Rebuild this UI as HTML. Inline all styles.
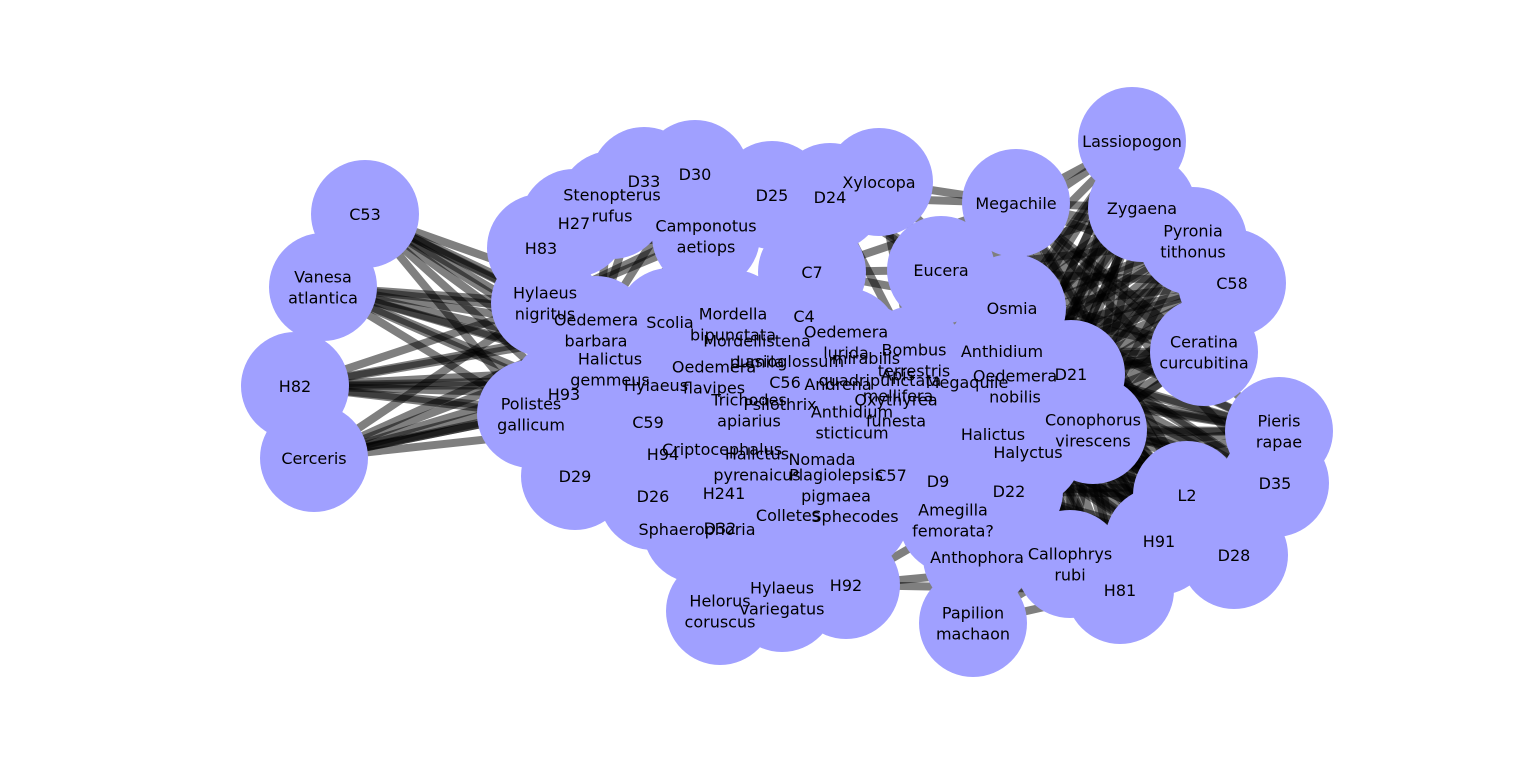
<!DOCTYPE html>
<html><head><meta charset="utf-8">
<style>
html,body{margin:0;padding:0;background:#fff;}
svg{display:block;}
text{font-family:"DejaVu Sans","Liberation Sans",sans-serif;font-size:16px;fill:#000;}
</style></head>
<body>
<svg id="chart" width="1536" height="757" viewBox="0 0 1536 757" xmlns="http://www.w3.org/2000/svg">
<g id="edges"></g>
<g id="nodes"></g>
<g id="labels"></g>
</svg>
<script>
const nodeNames = ["Lassiopogon","Zygaena","Pyronia\ntithonus","C58","Megachile","Xylocopa","D24","D25","D30","D33","Stenopterus\nrufus","H27","H83","Camponotus\naetiops","C7","Eucera","Osmia","C53","Vanesa\natlantica","H82","Cerceris","Hylaeus\nnigritus","Oedemera\nbarbara","Scolia","Mordella\nbipunctata","C4","Oedemera\nlurida","Mordellistena\npumila","Lasioglossum","mirabilis","Bombus\nterrestris","Anthidium","D21","Ceratina\ncurcubitina","Halictus\ngemmeus","Oedemera\nflavipes","Hylaeus","H93","C56","Andrena","quadripunctata","Apis\nmellifera","Megaquile","Oedemera\nnobilis","Polistes\ngallicum","Trichodes\napiarius","Psilothrix","Oxythyrea\nfunesta","Anthidium\nsticticum","C59","Conophorus\nvirescens","Pieris\nrapae","Halictus","Criptocephalus","H94","Halictus\npyrenaicus","Nomada","Halyctus","D29","Plagiolepsis\npigmaea","C57","D9","D35","L2","D26","H241","D22","Amegilla\nfemorata?","Colletes","Sphecodes","Sphaerophoria","D32","H91","Callophrys\nrubi","Anthophora","D28","H92","Hylaeus\nvariegatus","Helorus\ncoruscus","H81","Papilion\nmachaon"];
const nodeX = [1132,1142,1193,1232,1016,879,830,772,695,644,612,574,541,706,812,941,1012,365,323,295,314,545,596,670,733,804,846,757,790,866,914,1002,1071,1204,610,714,656,564,785,838,880,898,967,1015,531,749,780,896,852,648,1093,1279,993,722,663,757,822,1028,575,836,891,938,1275,1187,653,724,1009,953,788,855,697,720,1159,1070,977,1234,846,782,720,1120,973];
const nodeY = [141,208,241,283,203,182,197,195,174,181,205,223,248,236,272,270,308,214,287,386,458,303,330,322,324,316,342,351,361,358,360,351,374,352,369,377,385,394,382,384,380,385,382,386,414,410,404,410,422,422,430,431,434,449,454,464,459,452,476,485,475,481,483,495,496,493,491,520,515,516,529,528,541,564,557,555,585,598,611,590,623];
// edges: [source, target] by node index
const edgeSrc = [];
const edgeDst = [];
const hubsLeft = [21,22,34,36,37,44,49,23,35];
const hubsRight = [16,31,32,43,50,52,57,66,15,4,30,42];
const leftPeriph = [17,18,19,20];
const rightPeriph = [0,1,2,3,33,51,62,63,72,75,79,73];
leftPeriph.forEach(p=>hubsLeft.forEach(h=>{edgeSrc.push(p);edgeDst.push(h);}));
rightPeriph.forEach(p=>hubsRight.forEach(h=>{edgeSrc.push(p);edgeDst.push(h);}));
[12,11,21,22].forEach(a=>[13,9,8,10,7].forEach(b=>{edgeSrc.push(a);edgeDst.push(b);}));
[5,6,14].forEach(a=>[15,16,4,30].forEach(b=>{edgeSrc.push(a);edgeDst.push(b);}));
[73,79,66,61].forEach(a=>[80,74,76,67,60].forEach(b=>{edgeSrc.push(a);edgeDst.push(b);}));
[76,77,78].forEach(a=>[59,68,69,55,65].forEach(b=>{edgeSrc.push(a);edgeDst.push(b);}));

const R = 54;
const NS = "http://www.w3.org/2000/svg";
const gE = document.getElementById('edges'), gN = document.getElementById('nodes'), gL = document.getElementById('labels');
for (let i=0;i<edgeSrc.length;i++){
  const l=document.createElementNS(NS,'line');
  l.setAttribute('x1',nodeX[edgeSrc[i]]);l.setAttribute('y1',nodeY[edgeSrc[i]]);
  l.setAttribute('x2',nodeX[edgeDst[i]]);l.setAttribute('y2',nodeY[edgeDst[i]]);
  l.setAttribute('stroke','#000');l.setAttribute('stroke-opacity','0.5');l.setAttribute('stroke-width','8');
  
  
  gE.appendChild(l);
}
for (let i=0;i<nodeNames.length;i++){
  const c=document.createElementNS(NS,'circle');
  c.setAttribute('cx',nodeX[i]);c.setAttribute('cy',nodeY[i]);c.setAttribute('r',R);
  c.setAttribute('fill','#a0a0ff');
  
  
  gN.appendChild(c);
  const lines=nodeNames[i].split('\n');
  const t=document.createElementNS(NS,'text');
  t.setAttribute('text-anchor','middle');
  
  
  lines.forEach((s,k)=>{
    const ts=document.createElementNS(NS,'tspan');
    ts.setAttribute('x',nodeX[i]);
    ts.setAttribute('y',nodeY[i]+6+(k-(lines.length-1)/2)*21);
    ts.textContent=s;
    t.appendChild(ts);
  });
  gL.appendChild(t);
}
</script>
</body></html>
